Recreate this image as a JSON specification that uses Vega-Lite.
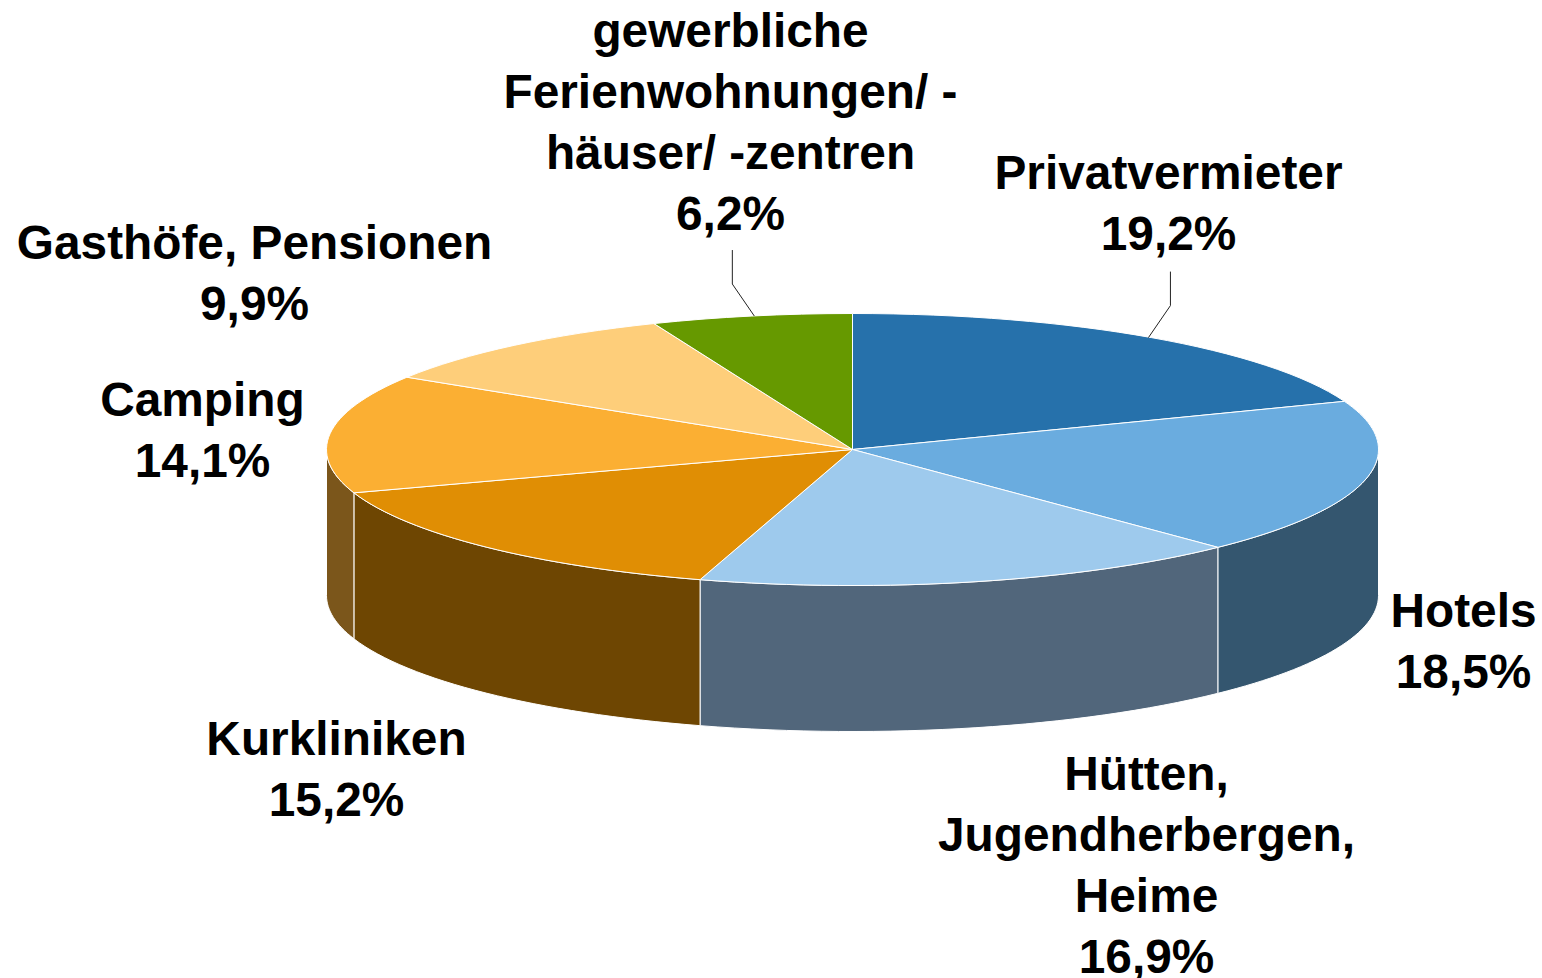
{
  "$schema": "https://vega.github.io/schema/vega-lite/v6.json",
  "width": 1542,
  "height": 978,
  "padding": 0,
  "autosize": {"type": "none"},
  "background": "white",
  "view": {"stroke": null},
  "config": {"view": {"stroke": null}},
  "params": [
    {"name": "rx", "value": 526},
    {"name": "ry", "value": 136},
    {"name": "depth", "value": 146}
  ],
  "data": {"values": [
    {"order": 1, "category": "Privatvermieter", "share": 19.24},
    {"order": 2, "category": "Hotels", "share": 18.54},
    {"order": 3, "category": "Hütten,\nJugendherbergen,\nHeime", "share": 16.9},
    {"order": 4, "category": "Kurkliniken", "share": 15.16},
    {"order": 5, "category": "Camping", "share": 14.08},
    {"order": 6, "category": "Gasthöfe, Pensionen", "share": 9.92},
    {"order": 7, "category": "gewerbliche\nFerienwohnungen/ -\nhäuser/ -zentren", "share": 6.16}
  ]},
  "transform": [
    {"window": [{"op": "sum", "field": "share", "as": "cum"}], "sort": [{"field": "order"}]},
    {"calculate": "(datum.cum - datum.share) * 3.6", "as": "d1"},
    {"calculate": "datum.cum * 3.6", "as": "d2"},
    {"calculate": "(datum.d1 + datum.d2) / 2", "as": "dm"},
    {"calculate": "max(datum.d1, 90)", "as": "w1"},
    {"calculate": "min(datum.d2, 270)", "as": "w2"},
    {"calculate": "'M0,0L' + rx*sin(datum.d1*PI/180) + ',' + (-ry*cos(datum.d1*PI/180)) + 'A' + rx + ',' + ry + ',0,0,1,' + rx*sin(datum.d2*PI/180) + ',' + (-ry*cos(datum.d2*PI/180)) + 'Z'", "as": "topPath"},
    {"calculate": "'M' + rx*sin(datum.w1*PI/180) + ',' + (-ry*cos(datum.w1*PI/180)) + 'A' + rx + ',' + ry + ',0,0,1,' + rx*sin(datum.w2*PI/180) + ',' + (-ry*cos(datum.w2*PI/180)) + 'L' + rx*sin(datum.w2*PI/180) + ',' + (depth-ry*cos(datum.w2*PI/180)) + 'A' + rx + ',' + ry + ',0,0,0,' + rx*sin(datum.w1*PI/180) + ',' + (depth-ry*cos(datum.w1*PI/180)) + 'Z'", "as": "wallPath"},
    {"calculate": "datum.dm < 180 ? 1 : -1", "as": "dir"},
    {"calculate": "'M' + (rx*sin(datum.dm*PI/180) - datum.dir*3) + ',' + (-ry*cos(datum.dm*PI/180)) + 'L' + (rx*sin(datum.dm*PI/180) + datum.dir*19) + ',' + (-ry*cos(datum.dm*PI/180) - 32) + 'L' + (rx*sin(datum.dm*PI/180) + datum.dir*19) + ',' + (-ry*cos(datum.dm*PI/180) - 66)", "as": "leaderPath"},
    {"calculate": "datum.category + '\\n' + replace(format(datum.share, '.1f'), '.', ',') + '%'", "as": "label"}
  ],
  "encoding": {
    "x": {"value": 852.5},
    "y": {"value": 449.5}
  },
  "layer": [
    {
      "transform": [{"filter": "datum.w1 < datum.w2"}],
      "mark": {"type": "point", "filled": true, "opacity": 1, "size": 4, "stroke": "white", "strokeWidth": 1, "strokeOpacity": 1},
      "encoding": {
        "shape": {"field": "wallPath", "type": "nominal", "scale": null, "legend": null},
        "color": {
          "field": "order", "type": "ordinal", "legend": null,
          "scale": {"domain": [2, 3, 4, 5], "range": ["#34566F", "#51667B", "#6E4602", "#7B561B"]}
        }
      }
    },
    {
      "mark": {"type": "point", "filled": true, "opacity": 1, "size": 4, "stroke": "white", "strokeWidth": 1, "strokeOpacity": 1},
      "encoding": {
        "shape": {"field": "topPath", "type": "nominal", "scale": null, "legend": null},
        "color": {
          "field": "category", "type": "nominal", "legend": null,
          "scale": {
            "domain": ["Privatvermieter", "Hotels", "Hütten,\nJugendherbergen,\nHeime", "Kurkliniken", "Camping", "Gasthöfe, Pensionen", "gewerbliche\nFerienwohnungen/ -\nhäuser/ -zentren"],
            "range": ["#2671AB", "#6AACDF", "#9ECAED", "#E08E04", "#FBAF33", "#FECE7A", "#669900"]
          }
        }
      }
    },
    {
      "transform": [{"filter": "datum.order == 1 || datum.order == 7"}],
      "mark": {"type": "point", "filled": false, "opacity": 1, "size": 4, "stroke": "#222222", "strokeWidth": 1},
      "encoding": {
        "shape": {"field": "leaderPath", "type": "nominal", "scale": null, "legend": null}
      }
    },
    {
      "transform": [{"filter": "datum.order == 1"}],
      "mark": {"type": "text", "font": "Liberation Sans", "fontWeight": "bold", "fontSize": 47.8, "lineHeight": 61, "lineBreak": "\n", "align": "center", "baseline": "alphabetic", "color": "black", "dx": 316, "dy": -261},
      "encoding": {"text": {"field": "label"}}
    },
    {
      "transform": [{"filter": "datum.order == 2"}],
      "mark": {"type": "text", "font": "Liberation Sans", "fontWeight": "bold", "fontSize": 47.8, "lineHeight": 61, "lineBreak": "\n", "align": "center", "baseline": "alphabetic", "color": "black", "dx": 611, "dy": 177},
      "encoding": {"text": {"field": "label"}}
    },
    {
      "transform": [{"filter": "datum.order == 3"}],
      "mark": {"type": "text", "font": "Liberation Sans", "fontWeight": "bold", "fontSize": 47.8, "lineHeight": 61, "lineBreak": "\n", "align": "center", "baseline": "alphabetic", "color": "black", "dx": 294, "dy": 340},
      "encoding": {"text": {"field": "label"}}
    },
    {
      "transform": [{"filter": "datum.order == 4"}],
      "mark": {"type": "text", "font": "Liberation Sans", "fontWeight": "bold", "fontSize": 47.8, "lineHeight": 61, "lineBreak": "\n", "align": "center", "baseline": "alphabetic", "color": "black", "dx": -516, "dy": 305},
      "encoding": {"text": {"field": "label"}}
    },
    {
      "transform": [{"filter": "datum.order == 5"}],
      "mark": {"type": "text", "font": "Liberation Sans", "fontWeight": "bold", "fontSize": 47.8, "lineHeight": 61, "lineBreak": "\n", "align": "center", "baseline": "alphabetic", "color": "black", "dx": -650, "dy": -34},
      "encoding": {"text": {"field": "label"}}
    },
    {
      "transform": [{"filter": "datum.order == 6"}],
      "mark": {"type": "text", "font": "Liberation Sans", "fontWeight": "bold", "fontSize": 47.8, "lineHeight": 61, "lineBreak": "\n", "align": "center", "baseline": "alphabetic", "color": "black", "dx": -598, "dy": -191},
      "encoding": {"text": {"field": "label"}}
    },
    {
      "transform": [{"filter": "datum.order == 7"}],
      "mark": {"type": "text", "font": "Liberation Sans", "fontWeight": "bold", "fontSize": 47.8, "lineHeight": 61, "lineBreak": "\n", "align": "center", "baseline": "alphabetic", "color": "black", "dx": -122, "dy": -403},
      "encoding": {"text": {"field": "label"}}
    }
  ],
  "resolve": {"scale": {"color": "independent"}}
}
